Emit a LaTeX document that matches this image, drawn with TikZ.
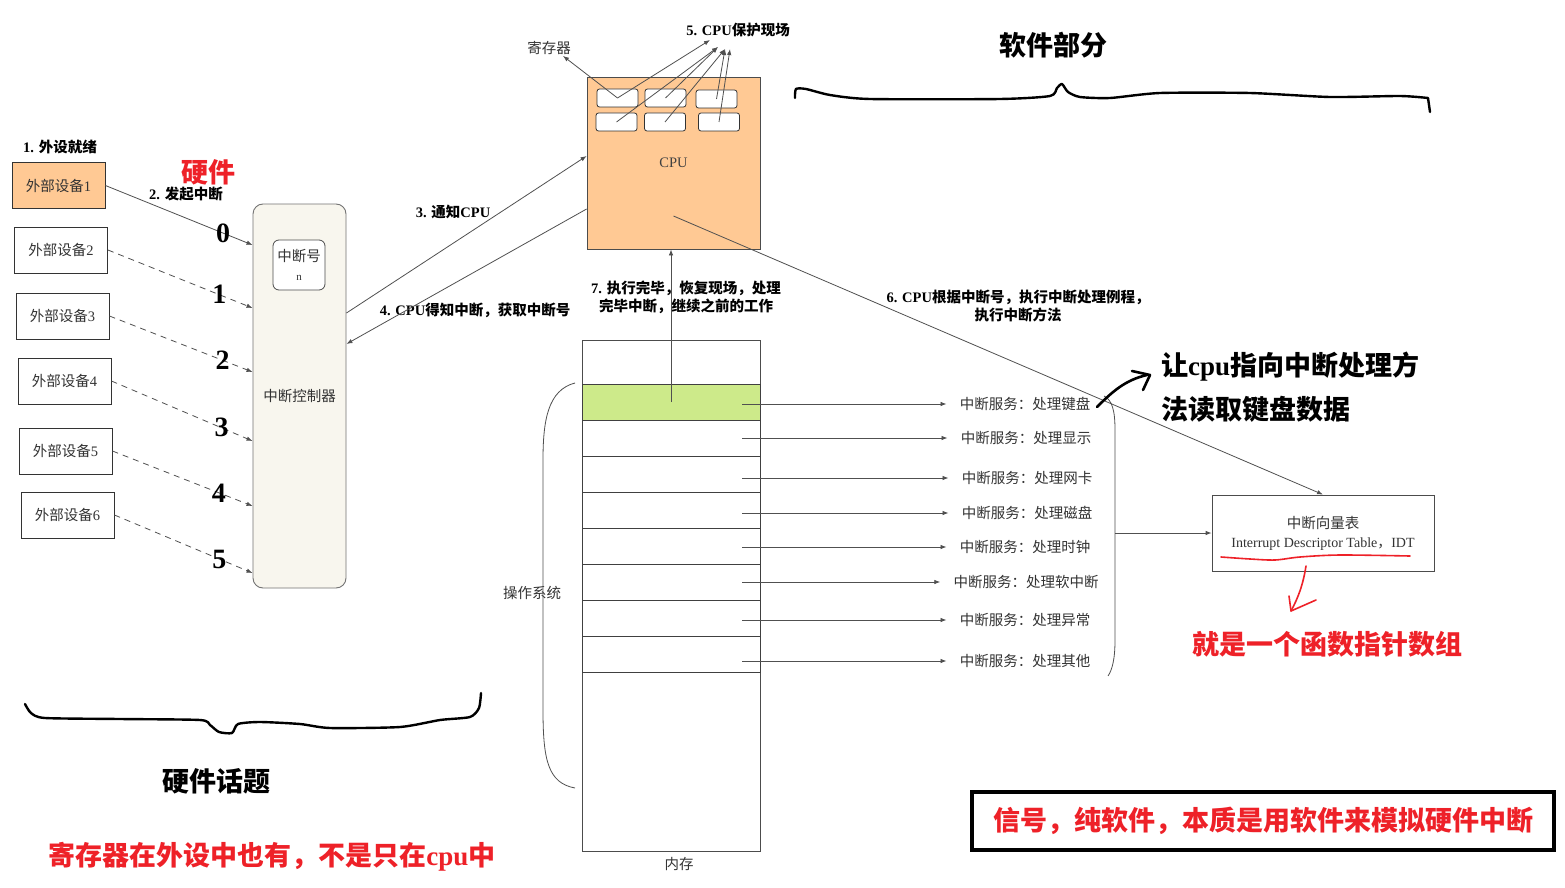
\documentclass[tikz,border=0pt]{standalone}
\usepackage{fontspec}
\setmainfont{Liberation Serif}
\newfontfamily\cjk{Noto Sans CJK SC}
\usetikzlibrary{arrows.meta,positioning}

\definecolor{cpuorange}{HTML}{FFC994}
\definecolor{memgreen}{HTML}{CDEA8A}
\definecolor{ctrlbg}{HTML}{F8F6EE}
\definecolor{inkred}{HTML}{EE2128}
\definecolor{linegray}{HTML}{505050}

\newcommand\zhs[1]{{\cjk #1}}
\newcommand\fsz[2]{\fontsize{#1}{#2}\selectfont}

\tikzset{
  dev/.style={draw=black!80, line width=0.9pt, minimum width=93, minimum height=46, inner sep=0pt, font=\fsz{14.5}{17}, text=black!80},
  reg/.style={draw=black!80, line width=0.8pt, rounded corners=2.5, fill=white, minimum width=41, minimum height=18, inner sep=0pt},
  cell/.style={draw=black!75, line width=0.8pt, minimum width=178, minimum height=36, inner sep=0pt},
  svc/.style={font=\cjk\fsz{14.5}{17}, text=black!80, inner xsep=13pt},
  lbl/.style={font=\bfseries\fsz{14.5}{18}, align=center, inner sep=1pt},
  txt/.style={font=\cjk\fsz{14.5}{17}, text=black!80, inner sep=1pt},
  big/.style={font=\cjk\bfseries\fsz{27}{32}, inner sep=1pt},
  num/.style={font=\bfseries\fsz{28}{30}, inner sep=0pt},
  link/.style={draw=linegray, line width=0.8pt, -{Latex[length=6pt,width=4.5pt]}},
  dlink/.style={link, dash pattern=on 6pt off 5pt},
  hand/.style={draw=black, line width=2.4pt, line cap=round, line join=round},
}

\begin{document}
\begin{tikzpicture}[x=1pt, y=-1pt]
        \fill[white] (0,0) rectangle (1565,888);
        \useasboundingbox (0,0) rectangle (1565,888);

        % Nodes
        \node[dev, fill=cpuorange] (d1) at (58.5,185.5) {\zhs{外部设备}1};
        \node[dev] (d2) at (61,250) {\zhs{外部设备}2};
        \node[dev] (d3) at (62.5,316) {\zhs{外部设备}3};
        \node[dev] (d4) at (64.5,381) {\zhs{外部设备}4};
        \node[dev] (d5) at (65.5,451) {\zhs{外部设备}5};
        \node[dev] (d6) at (67.5,515) {\zhs{外部设备}6};

        \node[draw=black!55, line width=0.9pt, rounded corners=10, fill=ctrlbg, minimum width=93, minimum height=384, font=\cjk\fsz{14.5}{17}, text=black!80] (ctrl) at (299.5,396) {中断控制器};
        \node[draw=black!70, line width=0.8pt, rounded corners=6, fill=white, minimum width=52, minimum height=50, align=center, font=\cjk\fsz{14.5}{19}, text=black!80] (irq) at (299,265) {中断号\\{\rmfamily\fsz{11}{12}n}};

        \node[lbl] (ready) at (60,147) {1. \zhs{外设就绪}};
        \node[big, text=inkred] (hw) at (208,172) {硬件};
        \node[lbl] (raise) at (186,194) {2. \zhs{发起中断}};

        \node[draw=black!70, line width=0.8pt, fill=cpuorange, minimum width=173, minimum height=172, font=\fsz{14.5}{17}, text=black!75] (cpu) at (673.5,163) {CPU};
        \node[reg] (r11) at (617.5,98) {};
        \node[reg] (r12) at (665.5,98) {};
        \node[reg] (r13) at (716.5,99) {};
        \node[reg] (r21) at (616.5,122) {};
        \node[reg] (r22) at (665,122) {};
        \node[reg] (r23) at (719,122) {};

        \node[txt] (regname) at (549,48) {寄存器};
        \node[lbl] (save) at (738,30) {5. CPU\zhs{保护现场}};
        \coordinate (t1) at (710,40);
        \coordinate (t2) at (718,47);
        \coordinate (t3) at (725,49);
        \coordinate (t4) at (730,49);

        \node[lbl] (tell) at (453,212) {3. \zhs{通知}CPU};
        \node[lbl] (fetch) at (475,310) {4. CPU\zhs{得知中断，获取中断号}};
        \node[lbl] (done) at (686,297) {7. \zhs{执行完毕，恢复现场，处理}\\\zhs{完毕中断，继续之前的工作}};
        \node[lbl] (run) at (1018,306) {6. CPU\zhs{根据中断号，执行中断处理例程，}\\\zhs{执行中断方法}};

        \node[draw=black!70, line width=0.8pt, minimum width=178, minimum height=511] (mem) at (671,595.5) {};
        \node[cell, fill=memgreen] (c1) at (671,402) {};
        \node[cell] (c2) at (671,438) {};
        \node[cell] (c3) at (671,474) {};
        \node[cell] (c4) at (671,510) {};
        \node[cell] (c5) at (671,546) {};
        \node[cell] (c6) at (671,582) {};
        \node[cell] (c7) at (671,618) {};
        \node[cell] (c8) at (671,654) {};
        \node[txt] (memname) at (679,864) {内存};
        \node[txt] (os) at (532,593) {操作系统};

        \node[svc] (s1) at (1025,404) {中断服务：处理键盘};
        \node[svc] (s2) at (1026,438) {中断服务：处理显示};
        \node[svc] (s3) at (1027,478) {中断服务：处理网卡};
        \node[svc] (s4) at (1027,513) {中断服务：处理磁盘};
        \node[svc] (s5) at (1025,547) {中断服务：处理时钟};
        \node[svc] (s6) at (1026,582) {中断服务：处理软中断};
        \node[svc] (s7) at (1025,620) {中断服务：处理异常};
        \node[svc] (s8) at (1025,661) {中断服务：处理其他};

        \node[draw=black!70, line width=0.8pt, minimum width=222, minimum height=76, align=center, font=\fsz{14}{19}, text=black!80] (idt) at (1323,533) {\zhs{\fsz{14.5}{19}中断向量表}\\Interrupt Descriptor Table\zhs{，}IDT};
        \coordinate (bmid) at (1115,533);

        \node[font=\cjk\bfseries\fsz{27}{44}, align=left, anchor=west, inner sep=1pt] (hint) at (1160,387) {让{\rmfamily cpu}指向中断处理方\\法读取键盘数据};
        \node[big, text=inkred] (fnarr) at (1327,644) {就是一个函数指针数组};
        \node[big] (sw) at (1053,45) {软件部分};
        \node[big] (hwtopic) at (216,781) {硬件话题};
        \node[big, text=inkred] (regnote) at (272,857) {寄存器在外设中也有，不是只在{\rmfamily cpu}中};
        \node[draw=black, line width=4pt, minimum width=582, minimum height=58, big, text=inkred] (signal) at (1263,821) {信号，纯软件，本质是用软件来模拟硬件中断};

        % Edges
        \draw[link] (d1.east) -- node[num, pos=0.8] {0} (ctrl.west |- 0,245);
        \draw[dlink] (d2.east) -- node[num, pos=0.77] {1} (ctrl.west |- 0,308);
        \draw[dlink] (d3.east) -- node[num, pos=0.79] {2} (ctrl.west |- 0,372);
        \draw[dlink] (d4.east) -- node[num, pos=0.78] {3} (ctrl.west |- 0,441);
        \draw[dlink] (d5.east) -- node[num, pos=0.76] {4} (ctrl.west |- 0,506);
        \draw[dlink] (d6.east) -- node[num, pos=0.76] {5} (ctrl.west |- 0,573);

        \draw[link] (ctrl.east |- 0,313) -- (cpu.west |- 0,156);
        \draw[link] (cpu.west |- 0,209) -- (ctrl.east |- 0,344);

        \draw[link] (r11.center) -- ([xshift=-9pt]regname.south east);
        \draw[link] (r11.center) -- (t1);
        \draw[link] (r21.center) -- (t2);
        \draw[link] (r12.center) -- (t2);
        \draw[link] (r22.center) -- (t3);
        \draw[link] (r13.center) -- (t3);
        \draw[link] (r23.center) -- (t4);

        \draw[link] (c1.center) -- (cpu.south -| c1.center);
        \draw[link] ([yshift=-53pt]cpu.center) -- (idt.north);

        \draw[link, shorten <=-18pt] (c1.east |- s1.west) -- (s1.west);
        \draw[link, shorten <=-18pt] (c2.east |- s2.west) -- (s2.west);
        \draw[link, shorten <=-18pt] (c3.east |- s3.west) -- (s3.west);
        \draw[link, shorten <=-18pt] (c4.east |- s4.west) -- (s4.west);
        \draw[link, shorten <=-18pt] (c5.east |- s5.west) -- (s5.west);
        \draw[link, shorten <=-18pt] (c6.east |- s6.west) -- (s6.west);
        \draw[link, shorten <=-18pt] (c7.east |- s7.west) -- (s7.west);
        \draw[link, shorten <=-18pt] (c8.east |- s8.west) -- (s8.west);

        % Brackets
        \draw[linegray, line width=0.8pt] (575,383) .. controls (548,390) and (543,420) .. (543,460) -- (543,710) .. controls (543,760) and (548,783) .. (575,788);
        \draw[linegray, line width=0.8pt] (1104,396) .. controls (1112,400) and (1115,410) .. (1115,430) -- (1115,640) .. controls (1115,660) and (1112,670) .. (1108,676);
        \draw[link] (bmid) -- (idt.west |- bmid);

        % Hand marks
        \draw[hand] plot[smooth, tension=0.4] coordinates {(795,98) (796,89) (806,89) (830,95) (870,99) (1000,99) (1050,96) (1057,88) (1062,84) (1068,92) (1080,97) (1110,98) (1160,93) (1250,93) (1330,97) (1400,96) (1428,98)} -- (1430,112);
        \draw[hand] plot[smooth, tension=0.4] coordinates {(25,704) (31,713) (45,718) (120,719) (200,720) (210,725) (219,732) (232,733) (238,724) (260,722) (300,724) (330,728) (400,727) (440,720) (470,717) (479,708) (481,693)};
        \draw[hand, line width=2.6pt] (1097,407) .. controls (1112,392) and (1125,380) .. (1147,375);
        \draw[hand, line width=2.6pt] (1132,371) -- (1150,375) -- (1143,390);
        \draw[inkred, line width=1.6pt, line cap=round] plot[smooth] coordinates {(1221,557) (1250,559) (1275,560) (1300,557) (1340,555) (1410,556)};
        \draw[inkred, line width=1.6pt, line cap=round, line join=round] (1306,566) .. controls (1303,585) and (1298,598) .. (1291,611);
        \draw[inkred, line width=1.6pt, line cap=round, line join=round] (1289,596) -- (1291,611) -- (1316,600);
    \end{tikzpicture}
\end{document}
